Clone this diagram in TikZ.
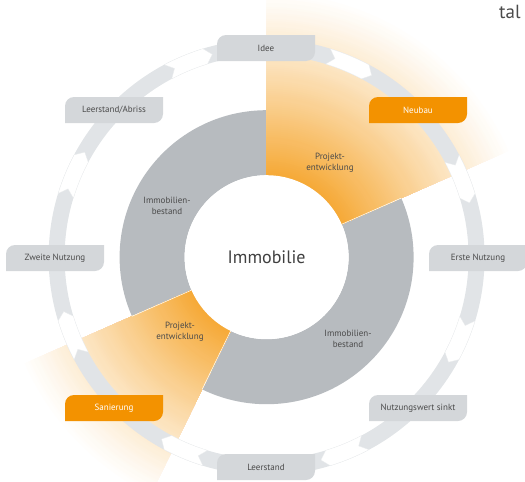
\documentclass[tikz,border=0pt]{standalone}
\usepackage{fontspec}
\setmainfont{PT Sans}
\usetikzlibrary{calc}
\definecolor{ringgray}{HTML}{E1E4E7}
\definecolor{ringedge}{HTML}{E9EBED}
\definecolor{boxgray}{HTML}{D4D7DA}
\definecolor{secgray}{HTML}{B7BBBF}
\definecolor{org}{HTML}{F39200}
\definecolor{txt}{HTML}{4A4A4A}
\definecolor{txtdark}{HTML}{404040}
\newcommand\leafbox[5]{%
  \begin{scope}[shift={(#2,#3)}]
    \fill[#4] (-49,-13) -- (-49,4) arc[start angle=180,end angle=90,radius=9]
      -- (49,13) -- (49,-4) arc[start angle=0,end angle=-90,radius=9] -- cycle;
    \node[boxlbl,#5] (#1) at (0,0) {\strut};
  \end{scope}}
\begin{document}
\begin{tikzpicture}[x=1pt,y=1pt,
  boxlbl/.style={font=\fontsize{9}{10}\selectfont, text=txt, inner sep=0},
  orglbl/.style={text=white},
  inl/.style={font=\fontsize{9}{11.5}\selectfont, text=txt, align=center, inner sep=0}]
\useasboundingbox (0,0) rectangle (525,-482);
\coordinate (C) at (266.6,-257.2);
% gray inner ring
\fill[secgray, even odd rule] (C) circle[radius=147] (C) circle[radius=82];
% orange sectors with fading
\foreach \r in {268,266,...,82} {
  \pgfmathtruncatemacro\p{80*((270-\r)/188)^1.2}
  \fill[org!\p!white] (C) -- ++(23.7:\r) arc[start angle=23.7,end angle=90,radius=\r] -- cycle;
  \fill[org!\p!white] (C) -- ++(203.7:\r) arc[start angle=203.7,end angle=244,radius=\r] -- cycle;
}
\foreach \a in {23.7,203.7,244} {
  \draw[white, line width=0.5] ($(C)+(\a:82)$) -- ($(C)+(\a:147)$);
}
% outer arrow ring
\fill[ringgray, even odd rule] (C) circle[radius=218] (C) circle[radius=202];
\foreach \f in {67.5,22.5,-22.5,-67.5,-112.5,-157.5,157.5,112.5} {
  \pgfmathsetmacro\fa{\f+5.5}
  \pgfmathsetmacro\fb{\f-5.5}
  \pgfmathsetmacro\fh{\f-7.5}
  \pgfmathsetmacro\fn{\f+3.5}
  \fill[white, draw=ringedge, line width=0.3]
    ($(C)+(\fa:218)$) arc[start angle=\fa, end angle=\fb, radius=218]
    -- ($(C)+(\fh:210)$) -- ($(C)+(\fb:202)$)
    arc[start angle=\fb, end angle=\fa, radius=202]
    -- ($(C)+(\fn:210)$) -- cycle;
}
% inner white circle
\fill[white] (C) circle[radius=82];
\node[font=\fontsize{18}{20}\selectfont, text=txtdark, inner sep=0] (imm) at (C) {Immobilie};
% inner labels
\node[inl] (pe1) at (330,-163) {Projekt-\\entwicklung};
\node[inl] (ib1) at (167,-206) {Immobilien-\\bestand};
\node[inl] (ib2) at (348,-339) {Immobilien-\\bestand};
\node[inl] (pe2) at (180,-332) {Projekt-\\entwicklung};
% boxes
\leafbox{idee}{266}{-48}{boxgray}{}
\node[boxlbl] at (idee) {Idee};
\leafbox{neubau}{418}{-110}{org}{}
\node[boxlbl,orglbl] at (neubau) {Neubau};
\leafbox{erste}{478}{-258}{boxgray}{}
\node[boxlbl] at (erste) {Erste Nutzung};
\leafbox{sinkt}{418}{-408}{boxgray}{}
\node[boxlbl] at (sinkt) {Nutzungswert sinkt};
\leafbox{leer}{266}{-467}{boxgray}{}
\node[boxlbl] at (leer) {Leerstand};
\leafbox{sanier}{114}{-408}{org}{}
\node[boxlbl,orglbl] at (sanier) {Sanierung};
\leafbox{zweite}{55}{-258}{boxgray}{}
\node[boxlbl] at (zweite) {Zweite Nutzung};
\leafbox{abriss}{114}{-110}{boxgray}{}
\node[boxlbl] at (abriss) {Leerstand/Abriss};
% logo fragment
\node[font=\fontsize{19}{20}\selectfont, text=txt, anchor=west, inner sep=0] (tal) at (499,-12) {tal};
\end{tikzpicture}
\end{document}
